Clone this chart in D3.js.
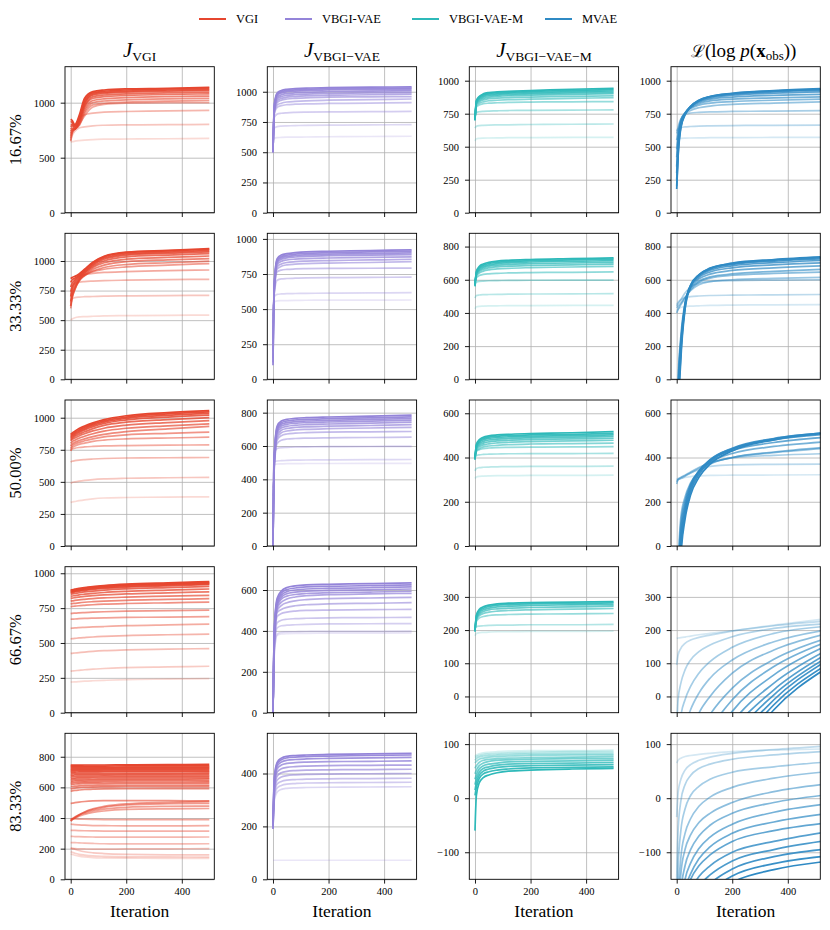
<!DOCTYPE html>
<html>
<head>
<meta charset="utf-8">
<script src="https://cdn.jsdelivr.net/npm/d3@7"></script>
<style>
  body { margin: 0; background: #fff; }
  text { font-family: "Liberation Serif", "DejaVu Serif", serif; fill: #000; }
</style>
</head>
<body>
<svg id="chart"></svg>
<script>
// ---- data ----
var methods = ["VGI", "VBGI-VAE", "VBGI-VAE-M", "MVAE"];
var colors = ["#e6462f", "#9484d9", "#2db9b9", "#2f8ac4"];
var rowLabels = ["16.67%", "33.33%", "50.00%", "66.67%", "83.33%"];
var iters = [0, 5, 15, 30, 50, 80, 120, 200, 350, 499];
var itersMVAE = [0, 5, 15, 30, 50, 80, 120, 200, 350, 520];
var xTicks = [0, 200, 400];

// y limits and ticks per row, per column
var yLimits = [
  [[0, 1327], [0, 1207], [0, 1106], [0, 1106]],
  [[0, 1234], [0, 1040], [0, 880], [0, 880]],
  [[0, 1138], [0, 876], [0, 660], [0, 660]],
  [[0, 1047], [0, 714], [-49, 391], [-49, 391]],
  [[0, 953], [0, 552], [-150, 120], [-150, 120]]
];
var yTicks = [
  [[0, 500, 1000], [0, 250, 500, 750, 1000], [0, 250, 500, 750, 1000], [0, 250, 500, 750, 1000]],
  [[0, 250, 500, 750, 1000], [0, 250, 500, 750, 1000], [0, 200, 400, 600, 800], [0, 200, 400, 600, 800]],
  [[0, 250, 500, 750, 1000], [0, 200, 400, 600, 800], [0, 200, 400, 600], [0, 200, 400, 600]],
  [[0, 250, 500, 750, 1000], [0, 200, 400, 600], [0, 100, 200, 300], [0, 100, 200, 300]],
  [[0, 200, 400, 600, 800], [0, 200, 400], [-100, 0, 100], [-100, 0, 100]]
];

// 16.67%  (listed darkest first)
var vgi_16 = [
  [850,840,800,880,1040,1100,1115,1125,1130,1140],
  [830,820,790,860,1020,1090,1105,1115,1125,1130],
  [800,800,780,850,1000,1080,1095,1105,1115,1120],
  [780,790,770,840,990,1070,1085,1095,1105,1110],
  [760,770,760,830,970,1055,1070,1080,1090,1095],
  [740,760,760,820,960,1040,1055,1065,1075,1080],
  [720,750,760,810,940,1020,1035,1045,1055,1060],
  [700,740,760,800,920,1000,1015,1025,1035,1040],
  [680,730,760,790,900,980,995,1005,1015,1020],
  [660,720,760,800,880,960,985,995,1000,1000],
  [650,720,790,850,890,905,915,920,925,930],
  [650,700,740,770,780,790,795,798,800,802],
  [640,645,650,655,660,665,668,670,672,675]
];
var vae_16 = [
  [500,900,990,1010,1020,1025,1030,1035,1038,1040],
  [500,890,980,1000,1010,1015,1020,1025,1028,1030],
  [500,880,970,990,1000,1005,1010,1015,1018,1020],
  [500,870,955,975,985,990,995,1000,1005,1008],
  [500,860,940,960,970,975,980,985,990,995],
  [510,850,925,945,955,960,965,970,975,980],
  [520,840,910,930,940,945,950,955,958,960],
  [540,830,890,905,915,920,925,930,935,940],
  [560,820,870,885,893,897,900,903,906,910],
  [580,790,815,822,826,829,831,833,835,837],
  [600,700,712,716,718,720,722,724,726,728],
  [600,615,620,622,624,625,626,628,630,632]
];
var vaem_16 = [
  [700,850,880,900,910,915,920,925,935,942],
  [700,845,875,893,903,908,912,918,926,932],
  [700,840,868,885,895,900,905,910,917,922],
  [705,835,860,876,886,891,896,901,908,912],
  [710,828,850,866,876,881,886,891,897,902],
  [715,820,840,855,863,868,872,876,881,886],
  [720,810,828,840,848,852,856,860,866,872],
  [730,800,815,825,830,833,836,838,840,842],
  [740,760,765,768,770,772,774,775,777,779],
  [640,655,660,662,664,665,666,668,670,672],
  [545,560,563,565,566,567,568,569,570,571]
];
var mvae_16 = [
  [180,420,640,740,800,850,880,905,925,940],
  [200,440,650,745,805,852,880,903,922,935],
  [250,470,660,748,806,850,877,898,916,928],
  [300,500,670,750,805,845,870,890,905,915],
  [350,530,680,752,800,838,860,876,889,897],
  [420,560,690,755,795,828,847,860,870,878],
  [480,590,700,757,790,815,830,842,852,860],
  [550,620,705,750,775,795,808,820,830,840],
  [600,650,710,745,755,760,764,767,770,773],
  [620,635,645,650,653,656,658,660,662,664],
  [555,560,563,565,566,567,568,569,570,571]
];

// 33.33%  (darkest first)
var vgi_33 = [
  [850,860,870,890,930,990,1040,1075,1090,1105],
  [820,840,855,880,925,985,1035,1070,1085,1098],
  [780,810,840,870,915,975,1025,1060,1075,1088],
  [740,780,820,860,905,965,1015,1050,1065,1077],
  [700,750,800,850,900,955,1000,1035,1050,1062],
  [660,720,780,840,890,945,985,1015,1030,1042],
  [620,690,760,830,880,930,965,995,1010,1020],
  [600,680,760,830,875,915,945,970,985,998],
  [620,700,770,840,880,910,930,950,965,978],
  [650,760,830,870,885,895,903,910,918,924],
  [700,780,810,820,826,830,834,838,842,845],
  [660,680,690,695,698,700,703,705,708,710],
  [500,510,520,527,530,533,536,538,541,543]
];
var vae_33 = [
  [100,700,860,885,895,902,908,912,917,922],
  [120,690,850,875,885,892,898,902,907,912],
  [150,680,840,865,875,882,887,891,895,900],
  [200,670,830,855,865,871,876,880,884,888],
  [250,660,815,840,850,856,860,864,868,872],
  [300,650,800,822,832,838,842,846,850,855],
  [350,640,785,805,815,820,824,828,832,838],
  [400,630,765,778,783,786,788,790,791,792],
  [450,620,705,715,718,720,722,724,726,728],
  [500,590,605,608,610,611,612,614,615,617],
  [520,550,558,560,561,562,563,564,564,565]
];
var vaem_33 = [
  [560,650,680,695,705,712,717,722,727,732],
  [565,645,672,688,698,705,710,715,720,724],
  [570,640,665,680,690,697,702,707,711,715],
  [575,635,658,672,682,688,693,697,701,705],
  [580,628,650,663,672,678,682,686,690,694],
  [585,620,640,652,660,665,669,673,677,681],
  [590,612,625,632,636,639,641,643,645,647],
  [570,585,590,592,594,595,596,597,598,598],
  [490,505,508,510,511,512,513,514,515,516],
  [425,437,440,441,442,443,444,444,445,446]
];
var mvae_33 = [
  [-800,-300,120,420,560,630,670,700,722,738],
  [-750,-250,150,430,565,630,668,697,718,732],
  [-700,-200,180,440,568,628,664,692,712,725],
  [-600,-150,200,445,565,622,657,684,703,716],
  [-500,-100,220,450,560,614,647,672,690,702],
  [-400,-50,240,455,555,605,634,656,672,684],
  [-300,0,260,460,548,592,617,635,650,662],
  [400,420,450,490,540,585,610,627,638,646],
  [430,440,460,495,535,570,588,600,608,614],
  [440,455,480,520,555,580,590,595,598,600],
  [450,465,480,492,498,502,505,507,509,511],
  [415,425,433,438,441,443,445,447,449,450]
];

// 50.00%  (darkest first)
var vgi_50 = [
  [870,880,895,915,935,960,985,1015,1040,1055],
  [860,870,885,905,925,950,975,1005,1030,1045],
  [850,860,875,895,915,940,965,995,1018,1033],
  [840,850,865,885,905,930,955,983,1005,1020],
  [830,840,855,872,890,915,940,965,985,1000],
  [820,830,842,858,875,897,918,942,962,978],
  [800,812,825,840,855,875,895,918,937,952],
  [780,795,808,822,835,852,870,892,913,932],
  [760,780,795,808,820,835,850,866,878,888],
  [740,765,780,792,802,815,825,835,842,848],
  [745,755,762,768,772,776,780,783,786,788],
  [655,660,665,670,674,678,682,686,688,690],
  [490,495,500,506,512,518,523,528,532,535],
  [340,343,347,353,360,368,374,378,381,383]
];
var vae_50 = [
  [0,560,720,750,760,766,770,774,779,785],
  [0,550,710,740,750,756,760,764,769,775],
  [10,540,700,730,740,746,750,754,759,765],
  [20,530,690,720,730,736,740,744,749,755],
  [40,520,680,708,718,724,728,732,737,743],
  [60,510,665,695,705,711,715,719,723,728],
  [100,500,650,680,690,696,700,704,708,712],
  [150,490,635,662,672,677,680,683,685,687],
  [200,480,615,635,642,645,647,649,651,653],
  [300,560,585,590,592,594,595,596,597,598],
  [350,505,510,512,514,515,516,517,518,519],
  [400,488,492,493,494,494,495,495,496,496]
];
var vaem_50 = [
  [390,460,480,492,498,502,505,508,512,517],
  [392,455,474,486,492,496,499,502,505,509],
  [395,450,468,480,486,490,493,496,499,502],
  [398,445,462,473,479,483,486,489,492,495],
  [400,440,455,465,471,475,478,481,484,487],
  [402,435,448,457,462,466,469,472,475,478],
  [405,430,440,448,452,455,458,461,463,465],
  [408,428,435,440,443,445,446,447,448,449],
  [400,408,412,414,415,416,417,418,418,419],
  [340,350,354,356,357,358,359,360,360,361],
  [305,312,315,316,317,318,318,319,319,320]
];
var mvae_50 = [
  [-900,-400,-50,120,230,310,370,430,480,508],
  [-800,-350,-20,140,245,322,380,437,484,510],
  [-700,-300,10,160,258,332,388,442,486,510],
  [-600,-250,40,175,268,338,390,440,480,503],
  [-500,-200,70,190,275,340,388,432,468,490],
  [-400,-150,100,205,280,338,380,418,450,470],
  [-300,-100,130,220,285,335,370,400,425,445],
  [280,300,310,320,335,355,375,400,422,440],
  [290,300,305,315,330,350,375,398,410,417],
  [300,305,310,318,330,345,360,367,369,370],
  [295,300,305,310,314,317,319,320,321,322]
];

// 66.67%  (VGI, VBGI-VAE, VBGI-VAE-M darkest first; MVAE lightest first)
var vgi_66 = [
  [880,882,886,892,898,905,912,922,932,940],
  [875,877,881,887,893,900,907,917,927,935],
  [870,872,876,882,888,895,902,912,922,930],
  [865,867,871,876,882,889,896,906,916,924],
  [860,862,866,871,877,884,891,900,910,918],
  [850,852,855,860,866,872,879,888,897,905],
  [835,837,840,845,850,856,862,870,879,887],
  [820,822,825,829,834,839,845,852,860,867],
  [800,802,805,809,813,818,823,829,836,842],
  [780,782,784,788,792,796,800,806,812,818],
  [760,762,764,767,770,774,778,783,788,793],
  [710,712,714,716,718,721,724,728,732,736],
  [670,671,672,674,676,678,680,683,686,689],
  [605,606,608,610,612,615,618,624,630,635],
  [530,531,533,536,539,543,547,553,559,563],
  [425,426,428,431,435,440,445,450,456,460],
  [298,299,301,304,308,312,317,323,328,333],
  [220,220,221,223,226,229,232,237,241,245]
];
var vae_66 = [
  [0,420,560,595,612,620,625,628,631,635],
  [0,410,550,585,602,610,615,618,621,625],
  [0,400,540,575,592,600,605,608,611,615],
  [0,390,530,565,582,590,595,598,601,605],
  [0,380,520,555,570,578,583,587,590,594],
  [0,370,510,540,556,566,572,577,581,584],
  [0,360,500,524,538,547,553,558,561,564],
  [0,350,490,505,515,523,528,532,535,538],
  [0,340,470,485,492,497,500,502,504,505],
  [0,330,440,452,457,460,462,464,465,466],
  [0,320,415,425,428,430,432,434,435,436],
  [0,300,385,393,395,396,397,398,398,399],
  [0,290,378,385,387,388,388,389,389,390]
];
var vaem_66 = [
  [195,245,262,270,275,279,281,283,284,286],
  [197,242,258,266,271,275,277,279,280,282],
  [199,238,253,261,266,270,272,274,276,277],
  [200,234,248,256,261,264,266,268,270,272],
  [202,230,243,250,254,257,259,261,263,265],
  [204,226,236,241,244,246,247,248,249,250],
  [205,210,212,213,214,215,215,216,216,217],
  [183,190,192,193,194,195,195,196,196,197]
];
var mvae_66 = [
  [175,176,177,179,182,186,190,198,215,232],
  [95,125,145,160,170,178,185,197,213,226],
  [-100,-10,40,80,110,135,155,180,205,218],
  [-300,-150,-60,-10,30,70,105,148,190,210],
  [-500,-300,-160,-90,-40,10,55,110,165,198],
  [-700,-450,-270,-170,-110,-50,0,70,140,185],
  [-900,-600,-380,-260,-185,-115,-55,25,112,170],
  [-1000,-700,-460,-330,-245,-165,-100,-10,90,158],
  [-1100,-800,-540,-400,-305,-215,-145,-45,65,145],
  [-1200,-900,-620,-470,-365,-265,-190,-80,40,130],
  [-1300,-1000,-700,-530,-420,-310,-230,-110,20,118],
  [-1400,-1100,-760,-580,-465,-350,-260,-135,5,107],
  [-1500,-1200,-820,-630,-505,-385,-290,-160,-10,97],
  [-1600,-1300,-880,-680,-545,-420,-320,-185,-25,85],
  [-1700,-1400,-940,-730,-590,-455,-350,-210,-40,75]
];

// 83.33%  (lightest first)
var vgi_83 = [
  [165,162,157,151,146,142,140,138,137,137],
  [180,176,170,163,158,153,150,147,146,145],
  [205,202,196,188,180,173,168,163,160,160],
  [200,200,200,199,198,197,197,198,199,200],
  [240,240,239,238,236,234,232,231,231,232],
  [280,280,279,278,277,276,275,275,275,276],
  [320,320,319,318,317,316,315,315,315,315],
  [360,359,357,355,353,351,350,349,349,350],
  [395,395,394,393,392,391,390,390,390,390],
  [380,388,398,412,424,436,446,456,460,462],
  [385,392,402,418,432,446,458,470,476,478],
  [390,396,406,422,438,455,470,485,493,496],
  [380,390,402,420,440,460,476,492,502,508],
  [495,497,500,504,508,512,514,514,513,512],
  [575,577,580,583,586,588,590,591,592,592],
  [590,592,595,598,600,602,603,604,604,605],
  [605,606,608,610,611,612,613,614,614,614],
  [620,621,622,623,624,625,625,626,626,626],
  [630,631,632,633,634,634,635,635,635,636],
  [640,641,642,643,643,644,644,645,645,645],
  [650,651,652,652,653,653,654,654,654,655],
  [660,661,661,662,662,663,663,664,664,664],
  [670,671,671,672,672,672,673,673,673,674],
  [680,680,681,681,682,682,682,683,683,683],
  [690,690,691,691,691,692,692,692,692,693],
  [700,700,700,701,701,701,702,702,702,702],
  [708,708,708,709,709,709,710,710,710,710],
  [715,715,715,716,716,716,717,717,717,717],
  [722,722,722,723,723,723,724,724,724,725],
  [730,730,730,730,731,731,731,732,732,732],
  [738,738,738,738,739,739,739,740,740,741],
  [745,745,745,745,746,746,746,747,748,750]
];
var vae_83 = [
  [72,72,72,72,72,72,72,72,72,72],
  [190,300,330,340,344,346,347,348,349,350],
  [190,310,345,355,360,362,364,365,366,367],
  [190,320,360,370,375,377,379,380,381,382],
  [190,330,375,387,392,395,397,398,399,400],
  [195,340,390,403,408,411,413,414,415,416],
  [200,350,405,418,423,426,428,430,431,432],
  [205,360,418,432,438,441,443,445,446,448],
  [210,370,428,443,450,453,455,457,459,461],
  [215,380,436,452,459,462,464,466,468,470],
  [220,390,442,458,465,468,470,472,474,476]
];
var vaem_83 = [
  [78,80,82,84,85,86,87,88,88,89],
  [75,77,79,81,82,83,84,85,86,86],
  [70,73,76,78,79,80,81,82,83,83],
  [65,68,72,74,76,77,78,79,80,80],
  [55,60,66,70,72,73,74,75,76,77],
  [45,52,60,65,68,70,71,72,73,73],
  [35,44,54,60,63,65,67,68,69,70],
  [25,36,48,55,58,61,63,64,65,66],
  [15,28,42,50,54,57,59,60,61,62],
  [5,20,36,45,49,52,54,56,57,58],
  [-60,5,28,38,43,47,50,52,54,55]
];
var mvae_83 = [
  [65,70,74,77,79,81,83,86,89,91],
  [-35,10,35,52,62,70,76,83,90,96],
  [-150,-60,-5,25,42,55,63,72,80,86],
  [-250,-130,-60,-20,5,22,35,48,58,66],
  [-330,-190,-110,-65,-38,-15,2,20,37,48],
  [-400,-230,-140,-95,-68,-45,-28,-8,12,25],
  [-450,-270,-175,-125,-95,-70,-50,-28,-8,5],
  [-500,-300,-200,-150,-120,-93,-72,-48,-26,-12],
  [-550,-330,-220,-170,-140,-112,-90,-65,-44,-30],
  [-600,-350,-230,-180,-150,-125,-105,-80,-60,-47],
  [-650,-380,-255,-200,-170,-145,-125,-100,-80,-64],
  [-700,-410,-280,-220,-190,-163,-142,-116,-95,-80],
  [-750,-440,-305,-240,-208,-180,-158,-131,-108,-95],
  [-800,-470,-330,-260,-225,-196,-172,-144,-121,-108],
  [-850,-500,-355,-280,-242,-211,-186,-156,-132,-118]
];

var runs = [
  [vgi_16, vae_16, vaem_16, mvae_16],
  [vgi_33, vae_33, vaem_33, mvae_33],
  [vgi_50, vae_50, vaem_50, mvae_50],
  [vgi_66, vae_66, vaem_66, mvae_66],
  [vgi_83, vae_83, vaem_83, mvae_83]
];
// which panels list their curves darkest first
var darkFirst = [
  [true, true, true, true],
  [true, true, true, true],
  [true, true, true, true],
  [true, true, true, false],
  [false, false, false, false]
];

// ---- layout ----
var screen = { width: 830, height: 930 };
var colLeft = [65, 267.3, 469.3, 671];
var rowTop = [66.7, 233.3, 400, 566.7, 733.3];
var panelW = 149.3, panelH = 146;
var xDomain = [-20.5, 517];

var svg = d3.select("#chart")
  .attr("width", screen.width)
  .attr("height", screen.height);

var fmt = function(d) { return d < 0 ? "\u2212" + (-d) : "" + d; };

var xScale = d3.scaleLinear().domain(xDomain).range([0, panelW]);

runs.forEach(function(row, r) {
  row.forEach(function(panelRuns, c) {
    var g = svg.append("g")
      .attr("transform", "translate(" + colLeft[c] + "," + rowTop[r] + ")");

    var yScale = d3.scaleLinear().domain(yLimits[r][c]).range([panelH, 0]);

    // grid
    g.append("g")
      .attr("transform", "translate(0," + panelH + ")")
      .call(d3.axisBottom(xScale).tickValues(xTicks).tickSize(-panelH).tickFormat(""))
      .call(function(a) {
        a.select(".domain").remove();
        a.selectAll("line").attr("stroke", "#b0b0b0").attr("stroke-width", 0.8);
      });
    g.append("g")
      .call(d3.axisLeft(yScale).tickValues(yTicks[r][c]).tickSize(-panelW).tickFormat(""))
      .call(function(a) {
        a.select(".domain").remove();
        a.selectAll("line").attr("stroke", "#b0b0b0").attr("stroke-width", 0.8);
      });

    // curves
    var clipId = "clip-" + r + "-" + c;
    g.append("clipPath").attr("id", clipId)
      .append("rect").attr("width", panelW).attr("height", panelH);

    var xs = c === 3 ? itersMVAE : iters;
    var ordered = darkFirst[r][c] ? panelRuns.slice().reverse() : panelRuns.slice();
    var n = ordered.length;

    var line = d3.line()
      .x(function(d, i) { return xScale(xs[i]); })
      .y(function(d) { return yScale(d); })
      .curve(d3.curveMonotoneX);

    g.append("g").attr("clip-path", "url(#" + clipId + ")")
      .selectAll("path")
      .data(ordered)
      .enter()
      .append("path")
      .attr("d", line)
      .attr("fill", "none")
      .attr("stroke", colors[c])
      .attr("stroke-width", 1.7)
      .attr("stroke-opacity", function(d, i) { return 0.2 + 0.8 * Math.pow(i / (n - 1), 0.8); });

    // spines
    g.append("rect")
      .attr("width", panelW).attr("height", panelH)
      .attr("fill", "none").attr("stroke", "#000").attr("stroke-width", 0.9);

    // axes
    g.append("g")
      .call(d3.axisLeft(yScale).tickValues(yTicks[r][c]).tickSize(4.3).tickPadding(6).tickFormat(fmt))
      .call(function(a) {
        a.select(".domain").remove();
        a.selectAll("line").attr("stroke", "#000").attr("stroke-width", 0.9);
        a.selectAll("text").attr("font-size", 10.5)
          .style("font-family", "'Liberation Serif', serif").attr("fill", "#000");
      });
    var xa = g.append("g")
      .attr("transform", "translate(0," + panelH + ")")
      .call(d3.axisBottom(xScale).tickValues(xTicks).tickSize(4.3).tickPadding(4)
        .tickFormat(r === runs.length - 1 ? fmt : ""));
    xa.select(".domain").remove();
    xa.selectAll("line").attr("stroke", "#000").attr("stroke-width", 0.9);
    xa.selectAll("text").attr("font-size", 10.5)
      .style("font-family", "'Liberation Serif', serif").attr("fill", "#000");

    if (r === runs.length - 1) {
      g.append("text")
        .attr("x", panelW / 2).attr("y", panelH + 38)
        .attr("text-anchor", "middle")
        .attr("font-size", 17.5)
        .text("Iteration");
    }
    if (c === 0) {
      g.append("text")
        .attr("transform", "translate(-44," + panelH / 2 + ") rotate(-90)")
        .attr("text-anchor", "middle")
        .attr("font-size", 16.5)
        .text(rowLabels[r]);
    }
  });
});

// column titles
var subs = ["VGI", "VBGI\u2212VAE", "VBGI\u2212VAE\u2212M"];
subs.forEach(function(s, c) {
  var t = svg.append("text")
    .attr("x", colLeft[c] + panelW / 2).attr("y", 57)
    .attr("text-anchor", "middle");
  t.append("tspan").attr("font-size", 21).attr("font-style", "italic").text("J");
  t.append("tspan").attr("font-size", 13.5).attr("dy", 4).text(s);
});
var t4 = svg.append("text")
  .attr("x", colLeft[3] + panelW / 2 - 2).attr("y", 57)
  .attr("text-anchor", "middle").attr("font-size", 19);
t4.append("tspan").style("font-family", "'DejaVu Serif', serif").attr("font-size", 17).text("\u2112");
t4.append("tspan").text("(log ");
t4.append("tspan").attr("font-style", "italic").text("p");
t4.append("tspan").text("(");
t4.append("tspan").attr("font-weight", "bold").text("x");
t4.append("tspan").attr("font-size", 13).attr("dy", 3).text("obs");
t4.append("tspan").attr("dy", -3).text("))");

// legend
var legendX = [199, 285, 412, 545];
var legend = svg.append("g").selectAll("g")
  .data(methods)
  .enter()
  .append("g")
  .attr("transform", function(d, i) { return "translate(" + legendX[i] + ",19)"; });
legend.append("line")
  .attr("x1", 0).attr("x2", 27)
  .attr("stroke", function(d, i) { return colors[i]; })
  .attr("stroke-width", 2);
legend.append("text")
  .attr("x", 37).attr("dy", "0.35em")
  .attr("font-size", 12.5)
  .text(function(d) { return d; });
</script>
</body>
</html>
